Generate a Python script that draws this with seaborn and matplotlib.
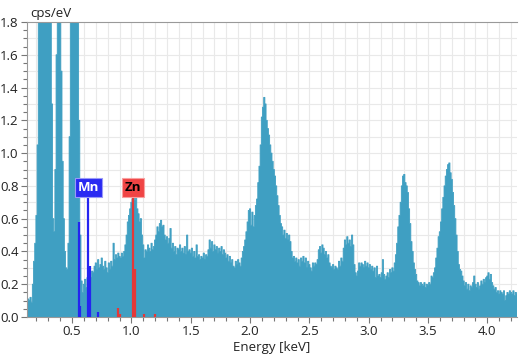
import numpy as np
import pandas as pd
import seaborn as sns
from matplotlib import pyplot as plt
from matplotlib.ticker import MultipleLocator

# channel layout of the spectrum (keV)
channel_start = 0.10
channel_width = 0.01

# counts per channel, one row = 0.1 keV
cps = [
    0.08, 0.08, 0.08, 0.11, 0.10, 0.12, 0.09, 0.20, 0.34, 0.45,   # 0.10
    0.62, 1.05, 1.90, 2.60, 3.20, 3.80, 4.20, 4.40, 4.30, 4.00,   # 0.20
    3.40, 2.60, 1.95, 1.30, 0.60, 0.52, 0.90, 1.60, 2.40, 2.90,   # 0.30
    2.50, 1.50, 0.95, 0.60, 0.40, 0.30, 0.29, 0.45, 1.10, 2.00,   # 0.40
    2.80, 3.40, 3.70, 3.50, 2.90, 2.10, 1.20, 0.50, 0.22, 0.15,   # 0.50
    0.20, 0.23, 0.18, 0.24, 0.22, 0.26, 0.24, 0.28, 0.27, 0.31,   # 0.60
    0.33, 0.29, 0.35, 0.30, 0.32, 0.36, 0.31, 0.29, 0.34, 0.30,   # 0.70
    0.27, 0.33, 0.29, 0.34, 0.31, 0.45, 0.35, 0.38, 0.36, 0.39,   # 0.80
    0.37, 0.36, 0.39, 0.37, 0.40, 0.44, 0.50, 0.58, 0.62, 0.66,   # 0.90
    0.70, 0.72, 0.74, 0.71, 0.73, 0.66, 0.63, 0.58, 0.60, 0.50,   # 1.00
    0.44, 0.36, 0.41, 0.40, 0.44, 0.42, 0.40, 0.45, 0.41, 0.43,   # 1.10
    0.47, 0.50, 0.55, 0.52, 0.57, 0.59, 0.55, 0.56, 0.50, 0.47,   # 1.20
    0.49, 0.45, 0.48, 0.54, 0.42, 0.45, 0.40, 0.43, 0.38, 0.42,   # 1.30
    0.41, 0.44, 0.40, 0.42, 0.39, 0.43, 0.38, 0.50, 0.40, 0.41,   # 1.40
    0.39, 0.42, 0.37, 0.40, 0.36, 0.44, 0.37, 0.38, 0.35, 0.37,   # 1.50
    0.36, 0.39, 0.35, 0.38, 0.37, 0.41, 0.47, 0.42, 0.46, 0.40,   # 1.60
    0.44, 0.41, 0.43, 0.39, 0.42, 0.40, 0.43, 0.38, 0.41, 0.39,   # 1.70
    0.36, 0.38, 0.34, 0.37, 0.33, 0.35, 0.31, 0.30, 0.34, 0.32,   # 1.80
    0.35, 0.33, 0.31, 0.36, 0.40, 0.43, 0.47, 0.52, 0.58, 0.65,   # 1.90
    0.66, 0.56, 0.64, 0.55, 0.62, 0.68, 0.72, 0.82, 0.92, 1.05,   # 2.00
    1.22, 1.28, 1.34, 1.30, 1.20, 1.15, 1.11, 1.05, 1.00, 0.95,   # 2.10
    0.90, 0.86, 0.80, 0.74, 0.68, 0.62, 0.57, 0.55, 0.50, 0.53,   # 2.20
    0.48, 0.51, 0.47, 0.50, 0.46, 0.40, 0.36, 0.37, 0.34, 0.36,   # 2.30
    0.33, 0.35, 0.31, 0.36, 0.34, 0.37, 0.33, 0.36, 0.30, 0.34,   # 2.40
    0.32, 0.30, 0.28, 0.33, 0.31, 0.33, 0.32, 0.35, 0.41, 0.43,   # 2.50
    0.39, 0.44, 0.42, 0.38, 0.40, 0.36, 0.38, 0.33, 0.31, 0.30,   # 2.60
    0.32, 0.29, 0.31, 0.30, 0.29, 0.34, 0.31, 0.36, 0.34, 0.42,   # 2.70
    0.47, 0.44, 0.49, 0.45, 0.47, 0.43, 0.50, 0.44, 0.32, 0.27,   # 2.80
    0.25, 0.28, 0.33, 0.31, 0.33, 0.32, 0.30, 0.34, 0.31, 0.33,   # 2.90
    0.30, 0.32, 0.29, 0.31, 0.28, 0.30, 0.24, 0.31, 0.25, 0.26,   # 3.00
    0.24, 0.27, 0.35, 0.26, 0.23, 0.25, 0.27, 0.24, 0.29, 0.27,   # 3.10
    0.30, 0.28, 0.33, 0.38, 0.45, 0.55, 0.62, 0.70, 0.80, 0.86,   # 3.20
    0.87, 0.82, 0.80, 0.76, 0.66, 0.57, 0.46, 0.40, 0.33, 0.29,   # 3.30
    0.26, 0.22, 0.21, 0.19, 0.21, 0.20, 0.19, 0.21, 0.18, 0.20,   # 3.40
    0.19, 0.21, 0.20, 0.25, 0.24, 0.27, 0.30, 0.36, 0.42, 0.49,   # 3.50
    0.52, 0.58, 0.66, 0.73, 0.80, 0.86, 0.90, 0.93, 0.94, 0.88,   # 3.60
    0.84, 0.76, 0.68, 0.60, 0.50, 0.40, 0.32, 0.29, 0.28, 0.25,   # 3.70
    0.22, 0.19, 0.21, 0.17, 0.20, 0.16, 0.19, 0.18, 0.21, 0.25,   # 3.80
    0.20, 0.18, 0.21, 0.17, 0.19, 0.22, 0.20, 0.23, 0.21, 0.24,   # 3.90
    0.25, 0.27, 0.23, 0.26, 0.21, 0.19, 0.17, 0.18, 0.15, 0.16,   # 4.00
    0.14, 0.16, 0.15, 0.14, 0.16, 0.10, 0.13, 0.15, 0.14, 0.16,   # 4.10
    0.15, 0.14, 0.16, 0.13, 0.15, 0.14,                           # 4.20
]

# element marker lines
mn_energy = [0.556, 0.567, 0.637, 0.649, 0.721]
mn_height = [0.58, 0.07, 0.75, 0.31, 0.03]
zn_energy = [0.884, 0.907, 1.012, 1.034, 1.107, 1.199]
zn_height = [0.055, 0.02, 0.75, 0.29, 0.02, 0.02]

spec = pd.DataFrame({
    "energy": np.round(channel_start + channel_width * np.arange(len(cps)), 3),
    "cps": cps,
})
lo = channel_start - channel_width / 2
hi = spec["energy"].iloc[-1] + channel_width / 2

sns.set_style("ticks")
plt.rcParams['font.family'] = ['Open Sans', 'DejaVu Sans']

fig = plt.figure(figsize=(5.2, 3.6), dpi=100)
ax = fig.add_axes([27 / 520, 43 / 360, 490 / 520, 295 / 360])

# light grid every 0.1 in both directions
for gx in np.arange(0.2, 4.25, 0.1):
    ax.axvline(gx, color="#e9e9e9", lw=0.8, zorder=0)
for gy in np.arange(0.1, 1.8, 0.1):
    ax.axhline(gy, color="#e9e9e9", lw=0.8, zorder=0)

sns.histplot(data=spec, x="energy", weights="cps", binwidth=channel_width,
             binrange=(lo, hi), element="step", fill=True,
             color="#3f9fc2", alpha=1, linewidth=0.6, ax=ax, zorder=2)

ax.vlines(mn_energy, 0, mn_height, colors="#2424f0", lw=1.6, zorder=3)
ax.vlines(zn_energy, 0, zn_height, colors="#e43838", lw=1.6, zorder=3)

ax.text(0.637, 0.79, "Mn", ha="center", va="center", color="white", fontsize=9.5,
        fontweight="bold", zorder=4,
        bbox=dict(boxstyle="square,pad=0.2", fc="#2a2af2", ec="#9a9af8", lw=0.8))
ax.text(1.012, 0.79, "Zn", ha="center", va="center", color="black", fontsize=9.5,
        fontweight="bold", zorder=4,
        bbox=dict(boxstyle="square,pad=0.2", fc="#f04444", ec="#f8a0a0", lw=0.8))

ax.set_xlim(0.12, 4.25)
ax.set_ylim(0, 1.8)
ax.xaxis.set_major_locator(MultipleLocator(0.5))
ax.xaxis.set_minor_locator(MultipleLocator(0.1))
ax.yaxis.set_major_locator(MultipleLocator(0.2))
ax.yaxis.set_minor_locator(MultipleLocator(0.05))
ax.yaxis.set_major_formatter(plt.FormatStrFormatter("%.1f"))
ax.xaxis.set_major_formatter(plt.FormatStrFormatter("%.1f"))
ax.tick_params(which="both", colors="#777777", labelcolor="#222222", labelsize=9.5, width=0.8)
ax.tick_params(which="major", length=4, pad=2)
ax.tick_params(which="minor", length=3)

ax.set_xlabel("Energy [keV]", fontsize=9.5, color="#222222", labelpad=2)
ax.set_ylabel("")
fig.text(30 / 520, 1 - 13 / 360, "cps/eV", ha="left", va="center", fontsize=9.5, color="#222222")

for side in ["left", "bottom", "top"]:
    ax.spines[side].set_color("#999999")
    ax.spines[side].set_linewidth(0.8)
ax.spines["right"].set_visible(False)

fig.savefig("out.png", dpi=100)
